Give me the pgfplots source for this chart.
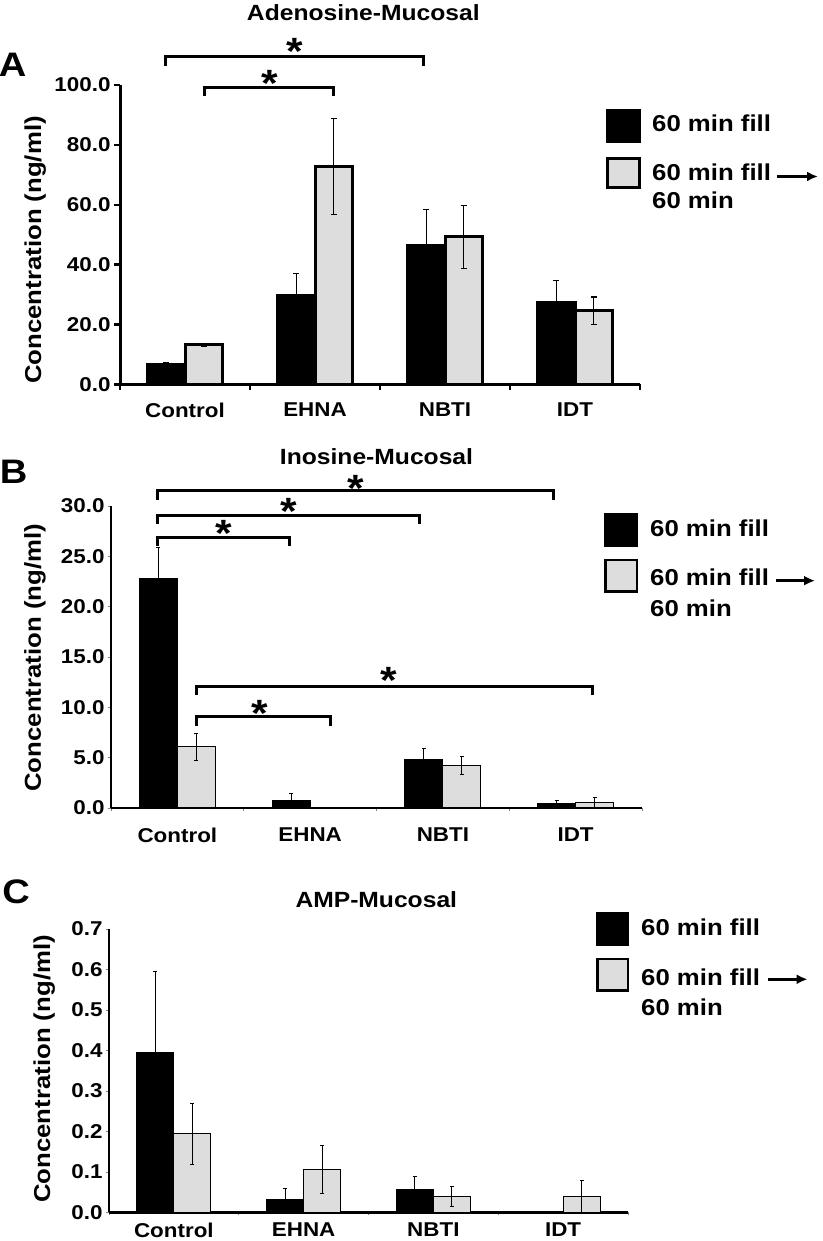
\documentclass[border=0pt]{standalone}
\usepackage{fontspec}
\setmainfont[FakeStretch=1.12]{Liberation Sans}
\usepackage{pgfplots}
\pgfplotsset{compat=1.18}
\usetikzlibrary{arrows.meta}
\definecolor{barg}{RGB}{221,221,221}
\newcommand\fs[1]{\fontsize{#1}{#1}\selectfont}
\pgfplotsset{
  panel/.style={
    scale only axis, enlargelimits=false, clip=false,
    xmin=-0.5, xmax=3.5,
    axis lines*=left, axis line style={-},
    xtick={0,1,2,3}, xticklabels={Control,EHNA,NBTI,IDT},
    minor xtick={-0.5,0.5,1.5,2.5,3.5},
    major x tick style={draw=none},
    tick align=outside,
    tick label style={font=\bfseries\fs{20}},
    /pgf/number format/assume math mode=true,
    yticklabel style={/pgf/number format/.cd, fixed, fixed zerofill, precision=1},
    ylabel={Concentration (ng/ml)},
    ylabel style={font=\bfseries\fs{23}},
    title style={font=\bfseries\fs{22}, anchor=center},
  },
}
\begin{document}
\begin{tikzpicture}[x=1pt,y=1pt]
\useasboundingbox (0,0) rectangle (822,1241);

% ---------------- Panel A ----------------
\begin{axis}[panel,
  at={(120pt,856.5pt)}, anchor=south west,
  width=520pt, height=299.5pt,
  ymin=0, ymax=100, ytick={0,20,40,60,80,100},
  axis line style={line width=3pt},
  major tick length=6pt, minor tick length=6pt,
  tick style={line width=2.5pt, black},
  xticklabel style={yshift=-9pt},
  ylabel style={at={(axis description cs:-0.163,0.449)}, anchor=center},
  title={Adenosine-Mucosal},
  title style={at={(axis description cs:0.468,1.223)}},
]
\addplot[ybar, bar width=0.286, bar shift=0pt, fill=black, draw=black, line width=3pt,
  error bars/.cd, y dir=both, y explicit,
  error bar style={line width=1.2pt, black},
  error mark options={rotate=90, mark size=3pt, line width=1.2pt}]
  coordinates {(-0.143,6.8) +- (0,0.4) (0.857,29.7) +- (0,7.3) (1.857,46.5) +- (0,12.0) (2.857,27.3) +- (0,7.4)};
\addplot[ybar, bar width=0.286, bar shift=0pt, fill=barg, draw=black, line width=3pt,
  error bars/.cd, y dir=both, y explicit,
  error bar style={line width=1.2pt, black},
  error mark options={rotate=90, mark size=3pt, line width=1.2pt}]
  coordinates {(0.143,13.2) +- (0,0.5) (1.143,72.8) +- (0,16.1) (2.143,49.3) +- (0,10.5) (3.143,24.6) +- (0,4.6)};
% significance brackets
\draw[line width=3pt] (axis cs:-0.148,106.4) -- (axis cs:-0.148,109.4) -- (axis cs:1.833,109.4) -- (axis cs:1.833,106.4);
\draw[line width=3pt] (axis cs:0.150,96.2) -- (axis cs:0.150,99.2) -- (axis cs:1.140,99.2) -- (axis cs:1.140,96.2);
\node[anchor=north, inner sep=0, font=\bfseries\fs{38}] at (axis cs:0.846,115.5) {*};
\node[anchor=north, inner sep=0, font=\bfseries\fs{38}] at (axis cs:0.650,104.8) {*};
\end{axis}

% ---------------- Panel B ----------------
\begin{axis}[panel,
  at={(111pt,433pt)}, anchor=south west,
  width=531pt, height=302pt,
  ymin=0, ymax=30, ytick={0,5,10,15,20,25,30},
  axis line style={line width=2.5pt},
  major tick length=3pt, minor tick length=3pt,
  tick style={line width=0.6pt, gray},
  xticklabel style={yshift=-13pt},
  ylabel style={at={(axis description cs:-0.143,0.497)}, anchor=center},
  title={Inosine-Mucosal},
  title style={at={(axis description cs:0.5,1.143)}},
]
\addplot[ybar, bar width=0.286, bar shift=0pt, fill=black, draw=black, line width=1pt,
  error bars/.cd, y dir=both, y explicit,
  error bar style={line width=1pt, black},
  error mark options={rotate=90, mark size=2pt, line width=1pt}]
  coordinates {(-0.143,22.8) +- (0,3.1) (0.857,0.75) +- (0,0.67) (1.857,4.82) +- (0,1.1) (2.857,0.48) +- (0,0.25)};
\addplot[ybar, bar width=0.286, bar shift=0pt, fill=barg, draw=black, line width=1pt,
  error bars/.cd, y dir=both, y explicit,
  error bar style={line width=1pt, black},
  error mark options={rotate=90, mark size=2pt, line width=1pt}]
  coordinates {(0.143,6.08) +- (0,1.35) (2.143,4.18) +- (0,0.9) (3.143,0.5) +- (0,0.52)};
\draw[line width=3pt] (axis cs:-0.148,30.6) -- (axis cs:-0.148,31.5) -- (axis cs:2.837,31.5) -- (axis cs:2.837,30.6);
\draw[line width=3pt] (axis cs:-0.148,28.2) -- (axis cs:-0.148,29.1) -- (axis cs:1.823,29.1) -- (axis cs:1.823,28.2);
\draw[line width=3pt] (axis cs:-0.148,26.0) -- (axis cs:-0.148,26.9) -- (axis cs:0.846,26.9) -- (axis cs:0.846,26.0);
\draw[line width=3pt] (axis cs:0.144,11.2) -- (axis cs:0.144,12.1) -- (axis cs:3.130,12.1) -- (axis cs:3.130,11.2);
\draw[line width=3pt] (axis cs:0.144,8.17) -- (axis cs:0.144,9.07) -- (axis cs:1.157,9.07) -- (axis cs:1.157,8.17);
\node[anchor=north, inner sep=0, font=\bfseries\fs{38}] at (axis cs:1.347,33.07) {*};
\node[anchor=north, inner sep=0, font=\bfseries\fs{38}] at (axis cs:0.838,30.8) {*};
\node[anchor=north, inner sep=0, font=\bfseries\fs{38}] at (axis cs:0.353,28.6) {*};
\node[anchor=north, inner sep=0, font=\bfseries\fs{38}] at (axis cs:1.590,14.0) {*};
\node[anchor=north, inner sep=0, font=\bfseries\fs{38}] at (axis cs:0.624,10.72) {*};
\end{axis}

% ---------------- Panel C ----------------
\begin{axis}[panel,
  at={(109pt,28.7pt)}, anchor=south west,
  width=519pt, height=283.3pt,
  ymin=0, ymax=0.7, ytick={0,0.1,0.2,0.3,0.4,0.5,0.6,0.7},
  axis line style={line width=2.5pt},
  major tick length=3pt, minor tick length=3pt,
  tick style={line width=0.6pt, gray},
  xticklabel style={yshift=-4pt},
  ylabel style={at={(axis description cs:-0.125,0.506)}, anchor=center},
  title={AMP-Mucosal},
  title style={at={(axis description cs:0.515,1.081)}},
]
\addplot[ybar, bar width=0.286, bar shift=0pt, fill=black, draw=black, line width=1pt,
  error bars/.cd, y dir=both, y explicit,
  error bar style={line width=1pt, black},
  error mark options={rotate=90, mark size=2pt, line width=1pt}]
  coordinates {(-0.143,0.396) +- (0,0.2) (0.857,0.032) +- (0,0.026) (1.857,0.057) +- (0,0.031)};
\addplot[ybar, bar width=0.286, bar shift=0pt, fill=barg, draw=black, line width=1pt,
  error bars/.cd, y dir=both, y explicit,
  error bar style={line width=1pt, black},
  error mark options={rotate=90, mark size=2pt, line width=1pt}]
  coordinates {(0.143,0.194) +- (0,0.075) (1.143,0.106) +- (0,0.06) (2.143,0.039) +- (0,0.024) (3.143,0.039) +- (0,0.04)};
\end{axis}

% ---------------- Panel letters ----------------
\node[font=\bfseries\fs{34}, inner sep=0] at (12.5,1176) {A};
\node[font=\bfseries\fs{34}, inner sep=0] at (13.5,769.5) {B};
\node[font=\bfseries\fs{34}, inner sep=0] at (16,349) {C};

% ---------------- Legends ----------------
% A
\fill[black] (606,1098) rectangle (641,1132);
\filldraw[fill=barg, draw=black, line width=3pt] (607.5,1053.5) rectangle (639.5,1082.5);
\node[anchor=west, inner sep=0, font=\bfseries\fs{23}] at (652,1118) {60 min fill};
\node[anchor=west, inner sep=0, font=\bfseries\fs{23}] at (652,1068.5) {60 min fill};
\node[anchor=west, inner sep=0, font=\bfseries\fs{23}] at (652,1041) {60 min};
\draw[line width=2.5pt, -{Latex[length=11pt,width=10pt]}] (777,1064.5) -- (818,1064.5);
% B
\fill[black] (604,694) rectangle (638,728);
\filldraw[fill=barg, draw=black, line width=2.5pt] (605.25,649.25) rectangle (636.75,680.75);
\node[anchor=west, inner sep=0, font=\bfseries\fs{23}] at (650,712.5) {60 min fill};
\node[anchor=west, inner sep=0, font=\bfseries\fs{23}] at (650,663.5) {60 min fill};
\node[anchor=west, inner sep=0, font=\bfseries\fs{23}] at (650,633) {60 min};
\draw[line width=2.5pt, -{Latex[length=11pt,width=10pt]}] (776,660.3) -- (815,660.3);
% C
\fill[black] (596,295) rectangle (629,329);
\filldraw[fill=barg, draw=black, line width=2.5pt] (597.25,250.25) rectangle (627.75,281.75);
\node[anchor=west, inner sep=0, font=\bfseries\fs{23}] at (641,313.5) {60 min fill};
\node[anchor=west, inner sep=0, font=\bfseries\fs{23}] at (641,263.5) {60 min fill};
\node[anchor=west, inner sep=0, font=\bfseries\fs{23}] at (641,233.5) {60 min};
\draw[line width=2.5pt, -{Latex[length=11pt,width=10pt]}] (768,261.7) -- (807.6,261.7);
\end{tikzpicture}
\end{document}
